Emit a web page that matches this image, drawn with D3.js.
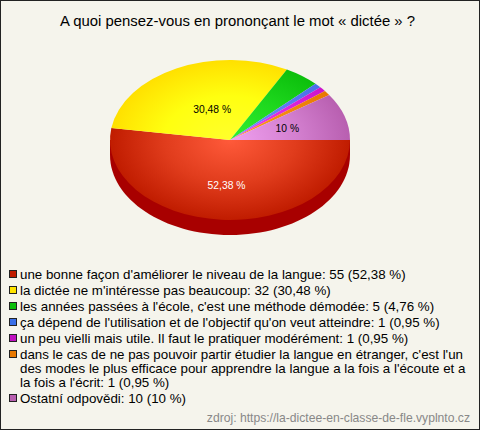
<!DOCTYPE html>
<html><head><meta charset="utf-8">
<script src="https://cdn.jsdelivr.net/npm/d3@7/dist/d3.min.js"></script>
<style>html,body{margin:0;padding:0;background:#f5f4ec}svg{display:block}text{font-family:"Liberation Sans",Arial,sans-serif}</style>
</head><body><svg id="c" width="480" height="430"></svg>
<script>
const title = "A quoi pensez-vous en prononçant le mot « dictée » ?";
const source = "zdroj: https://la-dictee-en-classe-de-fle.vyplnto.cz";
const categories = [
 "une bonne façon d'améliorer le niveau de la langue: 55 (52,38 %)",
 "la dictée ne m'intéresse pas beaucoup: 32 (30,48 %)",
 "les années passées à l'école, c'est une méthode démodée: 5 (4,76 %)",
 "ça dépend de l'utilisation et de l'objectif qu'on veut atteindre: 1 (0,95 %)",
 "un peu vielli mais utile. Il faut le pratiquer modérément: 1 (0,95 %)",
 ["dans le cas de ne pas pouvoir partir étudier la langue en étranger, c'est l'un","des modes le plus efficace pour apprendre la langue a la fois a l'écoute et a","la fois a l'écrit: 1 (0,95 %)"],
 "Ostatní odpovědi: 10 (10 %)"];
const values = [55,32,5,1,1,1,10];
const sliceLabels = ["52,38 %","30,48 %",null,null,null,null,"10 %"];
const labelColors = ["#fff","#000",null,null,null,null,"#000"];
const edgeColors = ["#c01c00","#ffe000","#0cbf0c","#4a6fe8","#cc14cc","#e87800","#b85fb0"];
const midColors = ["#e03c1c","#ffff10","#1ed81e","#5c80f4","#de2ade","#f38a10","#d480d0"];
const centerColors = ["#ff5a3a","#ffff2c","#30f030","#6f90ff","#f040f0","#ff9a20","#f0a0f0"];
const swatchColors = ["#c01c00","#ffe400","#0cbf0c","#3a6fe8","#c010c0","#e87800","#b85fb0"];
const sideColor = "#a80000";

const svg = d3.select("#c");
const W=480,H=430,cx=230,cy=140,rx=120,ry=80,depth=15;
svg.append("rect").attr("x",.5).attr("y",.5).attr("width",W-1).attr("height",H-1).attr("fill","#f5f4ec").attr("stroke","#222");
svg.append("text").attr("x",237.5).attr("y",26).attr("text-anchor","middle").attr("font-size",14.9).attr("fill","#000").text(title);

const defs=svg.append("defs");
values.forEach((v,i)=>{
  const g=defs.append("radialGradient").attr("id","g"+i).attr("gradientUnits","userSpaceOnUse").attr("cx",0).attr("cy",0).attr("r",rx);
  g.append("stop").attr("offset","0").attr("stop-color",centerColors[i]);
  g.append("stop").attr("offset","0.55").attr("stop-color",midColors[i]);
  g.append("stop").attr("offset","1").attr("stop-color",edgeColors[i]);
});
const pie=d3.pie().sort(null).startAngle(Math.PI/2).endAngle(Math.PI/2+2*Math.PI);
const arcs=pie(values);
const arc=d3.arc().innerRadius(0).outerRadius(rx);
const sy=ry/rx;
const wall=svg.append("g");
wall.append("path").attr("fill",sideColor).attr("d",()=>{
  const p=d3.path();p.moveTo(cx-rx,cy);p.lineTo(cx-rx,cy+depth);
  p.bezierCurveTo(cx-rx,cy+depth+ry*.5523,cx-rx*.5523,cy+depth+ry,cx,cy+depth+ry);
  p.bezierCurveTo(cx+rx*.5523,cy+depth+ry,cx+rx,cy+depth+ry*.5523,cx+rx,cy+depth);
  p.lineTo(cx+rx,cy);p.closePath();return p.toString();});
const face=svg.append("g").attr("transform",`translate(${cx},${cy}) scale(1,${sy})`);
face.selectAll("path").data(arcs).join("path").attr("d",arc).attr("fill",(d,i)=>`url(#g${i})`);
const nudge={0:[1,5],1:[9,5],6:[0,0]};
const lab=svg.append("g");
arcs.forEach((d,i)=>{ if(!sliceLabels[i])return;
  const [x,y]=arc.centroid(d);
  lab.append("text").attr("x",cx+x+nudge[i][0]).attr("y",cy+y*sy+4+nudge[i][1]).attr("text-anchor","middle").attr("font-size",10.3).attr("fill",labelColors[i]).text(sliceLabels[i]);
});
let y=274; const lh=16, wrap=14;
const leg=svg.append("g");
categories.forEach((c,i)=>{
  const lines=Array.isArray(c)?c:[c];
  leg.append("rect").attr("x",9.5).attr("y",y-3.5).attr("width",7).attr("height",7).attr("fill",swatchColors[i]).attr("stroke","#222");
  lines.forEach((t,j)=>leg.append("text").attr("x",20).attr("y",y+4.5+j*wrap).attr("font-size",13.33).attr("fill","#000").text(t));
  y+=lh+(lines.length-1)*wrap;
});
svg.append("text").attr("x",470).attr("y",422).attr("text-anchor","end").attr("font-size",12.15).attr("fill","#888").text(source);
</script></body></html>
